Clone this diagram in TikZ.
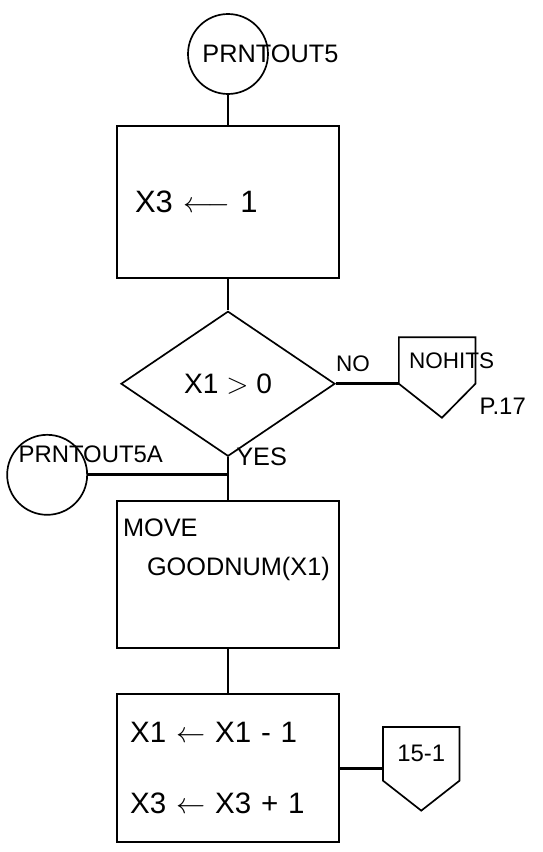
\documentclass[tikz,border=0pt]{standalone}
\usepackage{fontspec}
\setmainfont{Liberation Sans}
\usepackage{tikz}
\usetikzlibrary{shapes.geometric,positioning,calc}

\begin{document}
\begin{tikzpicture}[
  font=\fontsize{20}{24}\selectfont,
  node distance=0.8cm and 0.8cm,
  conn/.style={draw, circle, line width=1.2pt, minimum size=2cm, inner sep=0pt},
  proc/.style={draw, line width=1.4pt, minimum height=3.7cm, align=left},
  cond/.style={draw, diamond, line width=1.2pt, minimum width=5.35cm, minimum height=3.625cm, inner sep=0pt},
  page/.style={minimum width=1.9cm, inner xsep=0.15cm, text width=1.6cm, align=center, inner ysep=0pt},
  lbl/.style={inner sep=0pt},
  flow/.style={line width=2pt},
  edge/.style={line width=1.2pt}
]
\useasboundingbox (0,0) rectangle (13.575,-21.3);

% Main column
\node[conn] (start) at (5.7,-1.35) {};
\node[lbl, font=\fontsize{18}{22}\selectfont, right=0.375cm of start.west] (starttxt) {PRNTOUT5};
\node[proc, below=0.76cm of start, minimum height=3.8cm, inner xsep=0.45cm, text width=4.65cm,
  font=\fontsize{22}{26}\selectfont] (init) {X3 $\longleftarrow$ 1};
\node[cond, below=0.78cm of init] (test) {X1 $>$ 0};
\node[proc, below=1.08cm of test, minimum height=3.675cm, inner xsep=0.15cm, text width=5.25cm,
  font=\fontsize{18}{22}\selectfont] (move) {MOVE\\[0.2cm]\hspace*{0.6cm}GOODNUM(X1)\\[0.6cm]\mbox{}};
\node[proc, below=1.1cm of move, inner xsep=0.33cm, text width=4.89cm,
  font=\fontsize{21}{25}\selectfont] (step) {X1 $\leftarrow$ X1 - 1\\[0.9cm]X3 $\leftarrow$ X3 + 1};
\draw[flow] (start) -- (init);
\draw[flow] (init) -- (test);
\coordinate (join) at ($(test.south)!0.41!(move.north)$);
\draw[flow] (test.south) -- (move.north);
\draw[flow] (move) -- (step);

% NO branch
\node[page, minimum height=1.15cm, align=left, inner xsep=0.25cm, text width=1.4cm,
  font=\fontsize{16}{19}\selectfont, above right=0cm and 1.575cm of test.east] (nohits) {NOHITS};
\draw[edge] (nohits.north west) -- (nohits.north east) -- (nohits.south east)
  -- ($(nohits.south)+(0.12,-0.85)$) -- (nohits.south west) -- cycle;
\draw[flow] (test.east) -- (nohits.south west);
\node[lbl, font=\fontsize{16}{19}\selectfont, above right=0.3cm and 0cm of test.east] (no) {NO};
\node[lbl, font=\fontsize{17}{20}\selectfont, below right=0.35cm and 0.1cm of nohits.south east] (p17) {P.17};
\node[lbl, font=\fontsize{18}{22}\selectfont, right=0.2cm of test.south] (yes) {YES};

% Entry connector
\node[conn, left=3.5cm of join] (entry) {};
\node[lbl, font=\fontsize{17}{20}\selectfont, above right=0.3cm and 0.3cm of entry.west] (entrytxt) {PRNTOUT5A};
\draw[flow] (entry) -- (join);

% Off-page reference
\node[page, minimum height=1.325cm, font=\fontsize{17}{20}\selectfont,
  right=1.075cm of step.east, yshift=0.36cm] (ref) {15-1};
\draw[edge] (ref.north west) -- (ref.north east) -- (ref.south east)
  -- ($(ref.south)+(0,-0.75)$) -- (ref.south west) -- cycle;
\draw[flow] (step.east) -- (step.east -| ref.west);
\end{tikzpicture}
\end{document}
